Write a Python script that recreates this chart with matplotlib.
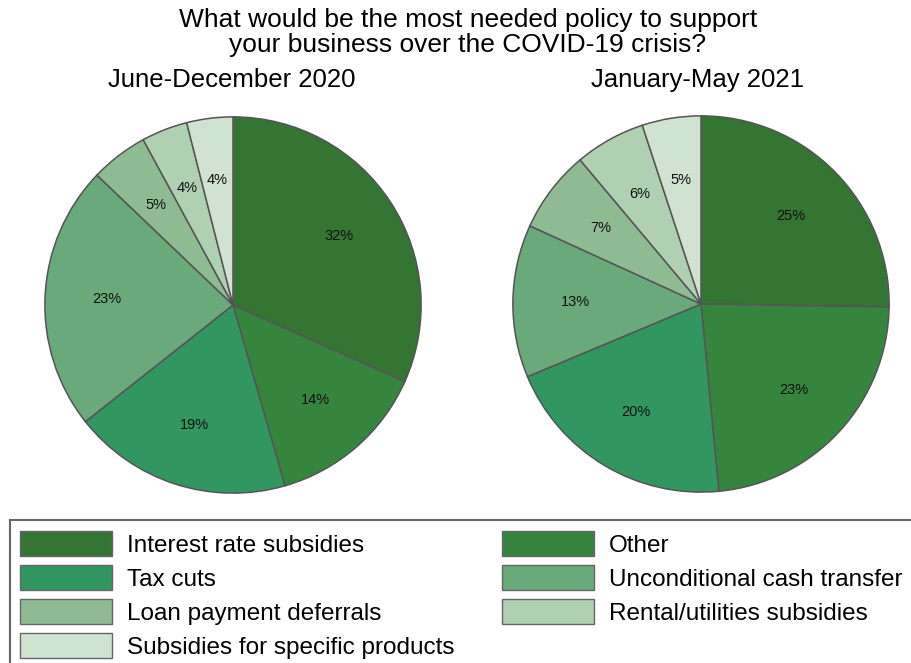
import matplotlib.pyplot as plt
from matplotlib.patches import Rectangle

plt.rcParams["font.family"] = ["Liberation Sans", "DejaVu Sans"]

# categories in clockwise order from 12 o'clock
categories = [
    "Interest rate subsidies",
    "Other",
    "Tax cuts",
    "Unconditional cash transfer",
    "Loan payment deferrals",
    "Rental/utilities subsidies",
    "Subsidies for specific products",
]
colors = ["#347534", "#36853f", "#329661", "#69a97a", "#8fbb93", "#b0d0b2", "#cfe3d0"]

share_2020 = [32, 14, 19, 23, 5, 4, 4]
share_2021 = [25, 23, 20, 13, 7, 6, 5]

title_lines = ["What would be the most needed policy to support",
               "your business over the COVID-19 crisis?"]
period_titles = ["June-December 2020", "January-May 2021"]

# legend layout: (column, row) for each category
legend_order = [(0, 0), (1, 0), (0, 1), (1, 1), (0, 2), (1, 2), (0, 3)]

W, H = 912, 663
fig = plt.figure(figsize=(W / 100, H / 100), dpi=100)


def px_axes(cx, cy, r):
    # axes box in pixel coords (y from top) -> figure fraction
    return [(cx - r) / W, (H - cy - r) / H, 2 * r / W, 2 * r / H]


def draw_pie(ax, values):
    total = sum(values)
    ax.pie(
        values,
        colors=colors,
        startangle=90,
        counterclock=False,
        radius=1,
        autopct=lambda p: f"{p * total / 100:.0f}%",
        pctdistance=0.67,
        wedgeprops=dict(edgecolor="#555555", linewidth=1.1),
        textprops=dict(fontsize=10.5, color="#111111"),
    )
    ax.set_xlim(-1.01, 1.01)
    ax.set_ylim(-1.01, 1.01)
    ax.set_aspect("equal")
    ax.axis("off")


radius = 190
ax1 = fig.add_axes(px_axes(233, 305, radius))
draw_pie(ax1, share_2020)
ax2 = fig.add_axes(px_axes(701, 304, radius))
draw_pie(ax2, share_2021)

fig.text(468 / W, 1 - 27 / H, title_lines[0], ha="center", va="baseline", fontsize=19)
fig.text(468 / W, 1 - 52 / H, title_lines[1], ha="center", va="baseline", fontsize=19)
fig.text(232 / W, 1 - 87 / H, period_titles[0], ha="center", va="baseline", fontsize=18.5)
fig.text(698 / W, 1 - 87 / H, period_titles[1], ha="center", va="baseline", fontsize=18.5)

# legend frame (runs off the right and bottom edge in the original)
fig.patches.append(Rectangle((10 / W, -0.05), 1.0, (H - 520) / H + 0.05,
                             transform=fig.transFigure, facecolor="none",
                             edgecolor="#666666", linewidth=1.5))

col_x = [20, 502]
row_y = [543, 577, 611, 645]
for (col, row), label, color in zip(legend_order, categories, colors):
    x0, yc = col_x[col], row_y[row]
    fig.patches.append(Rectangle((x0 / W, (H - yc - 12.5) / H), 92 / W, 25 / H,
                                 transform=fig.transFigure, facecolor=color,
                                 edgecolor="#666666", linewidth=1))
    fig.text((x0 + 107) / W, 1 - (yc + 9) / H, label, ha="left", va="baseline",
             fontsize=17.5)

fig.savefig("out.png", dpi=100)
